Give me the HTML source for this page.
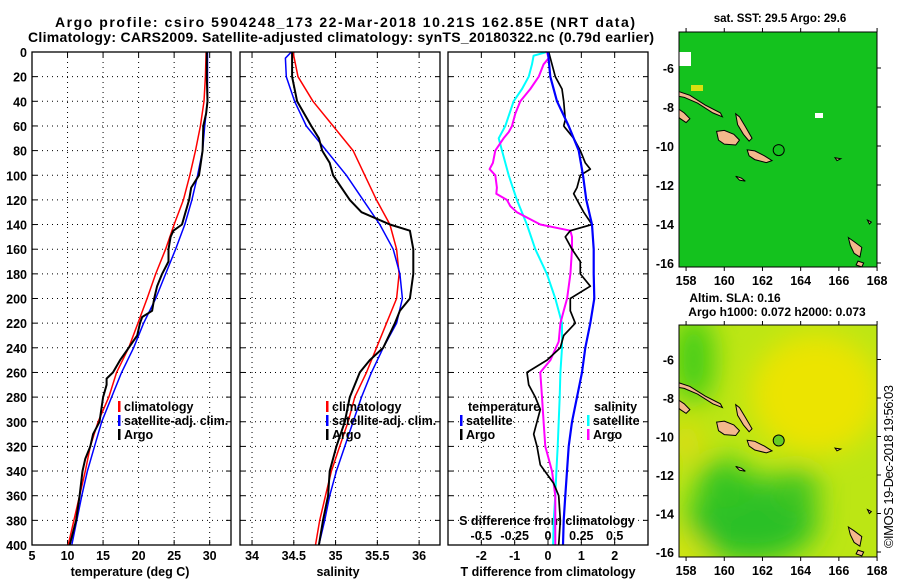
<!DOCTYPE html>
<html><head><meta charset="utf-8"><style>
html,body{margin:0;padding:0;background:#fff;}
svg{display:block;font-family:"Liberation Sans",sans-serif;font-weight:bold;}
</style></head><body>
<svg id="fig" width="900" height="580" viewBox="0 0 900 580" xmlns="http://www.w3.org/2000/svg">
<defs>
<filter id="blur" x="-50%" y="-50%" width="200%" height="200%"><feGaussianBlur stdDeviation="14"/></filter>
<clipPath id="clipm1"><rect x="679" y="32" width="198" height="235"/></clipPath>
<clipPath id="clipm2"><rect x="679" y="325" width="198" height="232"/></clipPath>
</defs>
<text x="55" y="27" font-size="14" textLength="580">Argo profile: csiro 5904248_173 22-Mar-2018 10.21S 162.85E (NRT data)</text>
<text x="28" y="42" font-size="14" textLength="626">Climatology: CARS2009. Satellite-adjusted climatology: synTS_20180322.nc (0.79d earlier)</text>
<text x="780" y="22" font-size="11.5" text-anchor="middle">sat. SST: 29.5 Argo: 29.6</text>
<text x="735" y="302" font-size="12" text-anchor="middle">Altim. SLA: 0.16</text>
<text x="777" y="316" font-size="12" text-anchor="middle">Argo h1000: 0.072 h2000: 0.073</text>
<text transform="translate(893,548) rotate(-90)" font-size="13" font-weight="normal" textLength="163">©IMOS 19-Dec-2018 19:56:03</text>
<g id="g"></g>
</svg>
<script>
// ---- data ----
const stdDepth = [0,20,40,60,80,100,120,140,160,180,200,220,240,260,280,300,320,340,360,380,400];
const climTemp = [29.5,29.4,29.2,28.7,28.0,27.2,26.3,25.0,23.8,22.4,21.2,19.9,18.6,16.9,15.8,14.3,13.2,12.5,11.7,10.9,10.1];
const satTemp  = [29.7,29.7,29.7,29.3,29.0,28.3,27.5,26.5,25.2,23.8,22.4,20.7,19.3,17.6,16.2,14.8,13.8,12.8,12.0,11.3,10.6];
const argoTempDepth = [0,20,40,50,60,80,100,110,120,130,140,145,150,160,170,180,190,200,210,215,220,230,240,250,260,265,270,280,300,310,320,330,340,360,380,400];
const argoTemp = [29.6,29.6,29.7,29.5,29.1,29.0,28.5,27.4,27.1,26.6,26.1,24.9,24.5,24.2,24.2,23.3,22.6,22.2,21.9,20.5,20.2,19.8,18.6,17.4,16.4,15.5,15.5,15.0,14.5,13.6,13.2,12.5,12.1,11.7,11.2,10.3];
const climSal = [34.49,34.55,34.73,34.97,35.21,35.35,35.49,35.65,35.73,35.76,35.73,35.61,35.49,35.37,35.23,35.15,35.05,34.95,34.88,34.81,34.76];
const satSalDepth = [0,5,20,40,60,80,100,120,140,160,180,200,220,240,260,280,300,320,340,360,380,400];
const satSal = [34.47,34.40,34.41,34.51,34.65,34.89,35.13,35.33,35.53,35.69,35.77,35.80,35.73,35.57,35.43,35.31,35.21,35.11,35.01,34.93,34.87,34.80];
const argoSalDepth = [0,20,40,60,70,80,90,100,110,120,130,140,145,160,180,200,210,220,240,250,260,270,280,300,320,340,360,380,400];
const argoSal = [34.48,34.48,34.54,34.71,34.80,34.84,34.93,34.97,35.07,35.17,35.31,35.65,35.89,35.93,35.93,35.89,35.77,35.71,35.57,35.41,35.29,35.23,35.17,35.11,35.01,34.93,34.91,34.85,34.80];
const satTdiff = [0,0.07,0.27,0.62,0.92,1.05,1.15,1.32,1.37,1.37,1.39,1.27,1.12,1.02,0.87,0.72,0.62,0.57,0.52,0.47,0.45];
const argoTdiffDepth = [0,10,20,30,40,55,60,70,80,90,95,100,110,115,120,130,140,145,150,160,170,180,190,200,210,220,230,240,250,260,270,280,290,300,310,320,335,350,360,380,400];
const argoTdiff = [0.02,0.12,0.22,0.42,0.47,0.52,0.47,0.77,0.97,1.12,1.27,0.97,0.87,0.77,0.87,1.07,1.32,0.67,0.52,0.72,0.97,0.97,1.27,0.67,0.67,0.82,0.47,0.37,-0.03,-0.63,-0.58,-0.38,-0.23,-0.33,-0.43,-0.33,-0.23,0.17,0.32,0.37,0.32];
const satSdiffDepth = [0,3,10,20,30,40,60,70,80,100,120,140,160,180,200,220,240,260,280,300,320,340,360,380,400];
const satSdiff = [-0.01,-0.108,-0.12,-0.145,-0.195,-0.258,-0.32,-0.37,-0.345,-0.295,-0.233,-0.158,-0.095,-0.008,0.055,0.105,0.105,0.093,0.088,0.08,0.073,0.063,0.055,0.043,0.038];
const argoSdiffDepth = [0,5,10,20,30,40,50,60,65,70,80,90,95,100,110,115,120,125,130,140,145,150,160,180,200,210,220,235,250,260,280,300,320,340,360,380,400];
const argoSdiff = [-0.008,0.005,-0.033,-0.07,-0.133,-0.208,-0.245,-0.27,-0.295,-0.333,-0.395,-0.413,-0.438,-0.395,-0.383,-0.388,-0.308,-0.283,-0.233,-0.058,0.168,0.18,0.18,0.168,0.143,0.118,0.093,0.08,0.018,-0.058,-0.045,-0.033,-0.02,0.03,0.055,0.055,0.055];
const depthTicks = [0,20,40,60,80,100,120,140,160,180,200,220,240,260,280,300,320,340,360,380,400];
const tempTicks = [5,10,15,20,25,30];
const salTicks = [34,34.5,35,35.5,36];
const tdTicks = [-2,-1,0,1,2];
const sdTicks = [-0.5,-0.25,0,0.25,0.5];
const sdTickLabels = ['-0.5','-0.25','0','0.25','0.5'];
const lonTicks = [158,160,162,164,166,168];
const latTicks = [-6,-8,-10,-12,-14,-16];
const argoLon = 162.85, argoLat = -10.21;

const NS='http://www.w3.org/2000/svg';
const G=document.getElementById('g');
function mk(tag,attrs,parent){const e=document.createElementNS(NS,tag);for(const k in attrs)e.setAttribute(k,attrs[k]);(parent||G).appendChild(e);return e;}

const Y0=52,Y1=545;
const yD=d=>Y0+(d/400)*(Y1-Y0);
const panels=[
 {x0:32,x1:231,min:5,max:33,name:'temperature-panel'},
 {x0:240,x1:440,min:33.856,max:36.25,name:'salinity-panel'},
 {x0:448,x1:648,min:-3,max:3,name:'difference-panel'}];
panels.forEach(p=>{p.sx=v=>p.x0+(v-p.min)/(p.max-p.min)*(p.x1-p.x0);});
const sdx=v=>panels[2].sx(v*4);

function grid(p,ticks){
  depthTicks.forEach(d=>{
    const l=mk('line',{x1:p.x0,x2:p.x1,y1:yD(d),y2:yD(d),stroke:'#000','stroke-width':1,'stroke-dasharray':'1,4'});
    
    
    mk('line',{x1:p.x0,x2:p.x0+5,y1:yD(d),y2:yD(d),stroke:'#000'});
    mk('line',{x1:p.x1-5,x2:p.x1,y1:yD(d),y2:yD(d),stroke:'#000'});
  });
  ticks.forEach(t=>{
    const x=p.sx(t);
    const l=mk('line',{x1:x,x2:x,y1:Y0,y2:Y1,stroke:'#000','stroke-width':1,'stroke-dasharray':'1,4'});
    
    
    mk('line',{x1:x,x2:x,y1:Y0,y2:Y0+5,stroke:'#000'});
    mk('line',{x1:x,x2:x,y1:Y1-5,y2:Y1,stroke:'#000'});
  });
}
function frame(p){
  const r=mk('rect',{x:p.x0,y:Y0,width:p.x1-p.x0,height:Y1-Y0,fill:'none',stroke:'#000','stroke-width':1.3});
  
  
}
function line(xs,ds,fx,color,w,name){
  const pts=xs.map((v,i)=>fx(v).toFixed(1)+','+yD(ds[i]).toFixed(1)).join(' ');
  const e=mk('polyline',{points:pts,fill:'none',stroke:color,'stroke-width':w,'stroke-linejoin':'round'});
  
  
}
function txt(x,y,s,opts,name){
  const e=mk('text',Object.assign({x:x,y:y,'font-size':12.5},opts||{}));
  e.textContent=s;
  
  
  return e;
}
grid(panels[0],tempTicks);grid(panels[1],salTicks);grid(panels[2],tdTicks);

depthTicks.forEach(d=>{txt(27,yD(d)+5,String(d),{'text-anchor':'end'},'depth-tick-label');});
tempTicks.forEach(t=>{txt(panels[0].sx(t),560,String(t),{'text-anchor':'middle'},'temperature-tick-label');});
salTicks.forEach(t=>{txt(panels[1].sx(t),560,String(t),{'text-anchor':'middle'},'salinity-tick-label');});
tdTicks.forEach(t=>{txt(panels[2].sx(t),560,String(t),{'text-anchor':'middle'},'t-diff-tick-label');});
sdTicks.forEach((t,i)=>{txt(sdx(t),540,sdTickLabels[i],{'text-anchor':'middle'},'s-diff-tick-label');});
txt(130,576,'temperature (deg C)',{'text-anchor':'middle'},'x-axis-title-temperature');
txt(338,576,'salinity',{'text-anchor':'middle'},'x-axis-title-salinity');
txt(548,576,'T difference from climatology',{'text-anchor':'middle'},'x-axis-title-t-diff');
txt(547,525,'S difference from climatology',{'text-anchor':'middle'},'s-diff-axis-title');

const P=panels;
line(climTemp,stdDepth,P[0].sx,'#f00',1.5,'temp-climatology-line');
line(satTemp,stdDepth,P[0].sx,'#00f',1.5,'temp-satellite-line');
line(argoTemp,argoTempDepth,P[0].sx,'#000',2,'temp-argo-line');
line(climSal,stdDepth,P[1].sx,'#f00',1.5,'sal-climatology-line');
line(satSal,satSalDepth,P[1].sx,'#00f',1.5,'sal-satellite-line');
line(argoSal,argoSalDepth,P[1].sx,'#000',2,'sal-argo-line');
line(satSdiff,satSdiffDepth,sdx,'#0ff',2,'s-diff-satellite-line');
line(argoSdiff,argoSdiffDepth,sdx,'#f0f',2,'s-diff-argo-line');
line(argoTdiff,argoTdiffDepth,P[2].sx,'#000',1.7,'t-diff-argo-line');
line(satTdiff,stdDepth,P[2].sx,'#00f',2.2,'t-diff-satellite-line');
P.forEach(frame);

function leg(x,y,color,label,name){
  mk('rect',{x:x,y:y-10,width:2.5,height:11,fill:color});
  txt(x+6,y,label,{},name);
}
[[0,118],[1,326]].forEach(([i,x])=>{
  leg(x,411,'#f00','climatology','legend-climatology');
  leg(x,425,'#00f','satellite-adj. clim.','legend-satellite-adj');
  leg(x,439,'#000','Argo','legend-argo');
});
txt(468,411,'temperature',{},'legend-temperature-header');
leg(460,425,'#00f','satellite','legend-t-satellite');
leg(460,439,'#000','Argo','legend-t-argo');
txt(594,411,'salinity',{},'legend-salinity-header');
leg(587,425,'#0ff','satellite','legend-s-satellite');
leg(587,439,'#f0f','Argo','legend-s-argo');

// ---- maps ----
const MX0=679,MX1=877;
const lx=lon=>MX0+(lon-157.63)*19.1;
const maps=[{y0:32,y1:267,ly:lat=>68+(-lat-6)*19.5,clip:'url(#clipm1)',name:'sst-map'},
            {y0:325,y1:557,ly:lat=>359.5+(-lat-6)*19.25,clip:'url(#clipm2)',name:'sla-map'}];
const islands=[
 [[157.6,-7.2],[158.2,-7.4],[159.0,-7.9],[159.8,-8.3],[159.9,-8.5],[159.4,-8.3],[158.6,-7.8],[157.9,-7.5],[157.6,-7.45]],
 [[157.6,-8.1],[157.9,-8.3],[158.2,-8.6],[158.0,-8.8],[157.7,-8.6],[157.6,-8.5]],
 [[160.6,-8.35],[160.8,-8.5],[161.1,-9.0],[161.45,-9.6],[161.3,-9.75],[161.0,-9.4],[160.7,-8.9]],
 [[159.6,-9.25],[160.0,-9.2],[160.5,-9.4],[160.8,-9.7],[160.6,-9.95],[160.0,-9.9],[159.7,-9.7]],
 [[161.2,-10.2],[161.6,-10.25],[162.1,-10.5],[162.5,-10.75],[162.2,-10.85],[161.6,-10.7],[161.3,-10.5]],
 [[160.6,-11.55],[160.9,-11.65],[161.1,-11.8],[160.8,-11.75]],
 [[166.5,-14.7],[166.8,-14.9],[167.2,-15.2],[167.1,-15.7],[166.8,-15.5],[166.6,-15.1]],
 [[167.0,-15.9],[167.3,-16.0],[167.2,-16.2],[166.9,-16.1]],
 [[165.8,-10.6],[166.1,-10.65],[165.9,-10.75]],
 [[167.5,-13.8],[167.7,-13.9],[167.6,-14.0]]
];
maps.forEach((m,mi)=>{
  const g=mk('g',{'clip-path':m.clip});
  
  
  if(mi===0){
    mk('rect',{x:MX0,y:m.y0,width:MX1-MX0,height:m.y1-m.y0,fill:'#14c21e'},g);
    mk('rect',{x:MX0,y:m.y0+20,width:12,height:14,fill:'#fff'},g);
    mk('rect',{x:815,y:113,width:8,height:5,fill:'#fff'},g);
    mk('rect',{x:691,y:85,width:12,height:6,fill:'#d8e010'},g);
  } else {
    mk('rect',{x:MX0,y:m.y0,width:MX1-MX0,height:m.y1-m.y0,fill:'#bce614'},g);
    const bg=mk('g',{filter:'url(#blur)'},g);
    mk('ellipse',{cx:lx(164.8),cy:m.ly(-7.8),rx:65,ry:60,fill:'#ece400'},bg);
    mk('ellipse',{cx:lx(158.4),cy:m.ly(-6),rx:20,ry:45,fill:'#40cc18'},bg);
    mk('ellipse',{cx:lx(161.5),cy:m.ly(-14.3),rx:65,ry:42,fill:'#2cc028'},bg);
    mk('ellipse',{cx:lx(160),cy:m.ly(-12.5),rx:28,ry:25,fill:'#36c420'},bg);
    mk('ellipse',{cx:lx(163.8),cy:m.ly(-12.8),rx:22,ry:22,fill:'#40c420'},bg);
    mk('ellipse',{cx:lx(157.8),cy:m.ly(-16),rx:22,ry:16,fill:'#dce40a'},bg);
    mk('ellipse',{cx:lx(158),cy:m.ly(-10.3),rx:14,ry:18,fill:'#e6d810'},bg);
  }
  islands.forEach(isl=>{
    const e=mk('polygon',{points:isl.map(([lo,la])=>lx(lo).toFixed(1)+','+m.ly(la).toFixed(1)).join(' '),fill:'#f4b88c',stroke:'#000','stroke-width':1},g);
    
    
  });
  const c=mk('circle',{cx:lx(argoLon),cy:m.ly(argoLat),r:5.5,fill:mi?'#66cc22':'none',stroke:'#000','stroke-width':1});
  
  
  const f=mk('rect',{x:MX0,y:m.y0,width:MX1-MX0,height:m.y1-m.y0,fill:'none',stroke:'#000','stroke-width':1});
  
  
  lonTicks.forEach(lo=>{
    const x=lx(lo);
    mk('line',{x1:x,x2:x,y1:m.y0,y2:m.y0-4,stroke:'#000'});
    mk('line',{x1:x,x2:x,y1:m.y1,y2:m.y1+4,stroke:'#000'});
    txt(x,m.y1+18,String(lo),{'text-anchor':'middle'},'longitude-tick-label');
  });
  latTicks.forEach(la=>{
    const y=m.ly(la);
    mk('line',{x1:MX1,x2:MX1+4,y1:y,y2:y,stroke:'#000'});
    txt(674,y+5,String(la),{'text-anchor':'end'},'latitude-tick-label');
  });
});
</script>
</body></html>
